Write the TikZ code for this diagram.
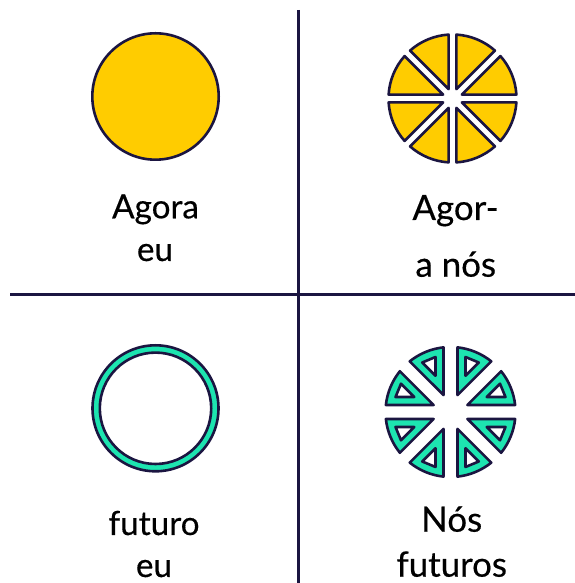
\documentclass[tikz,border=0pt]{standalone}
\usepackage{fontspec}
\setmainfont{Lato}
\newfontfamily\lblfont{Lato}[FakeBold=0.4]
\definecolor{navy}{HTML}{1B1541}
\definecolor{sun}{HTML}{FFCC00}
\definecolor{mint}{HTML}{1DE4B0}
\begin{document}
\begin{tikzpicture}[x=1bp,y=1bp,
  grid/.style={navy,line width=2.7bp},
  shapeline/.style={draw=navy,line width=2.6bp,line join=round},
  lbl/.style={anchor=base,inner sep=0pt,text=black,font=\lblfont\fontsize{33.4}{40}\selectfont},
  lblr/.style={anchor=base,inner sep=0pt,text=black,font=\lblfont\fontsize{35}{42}\selectfont}]
\useasboundingbox (0,0) rectangle (575,583);
\fill[white] (0,0) rectangle (575,583);
% grid
\coordinate (vt) at (298.3,573);
\coordinate (vb) at (298.3,0);
\coordinate (hl) at (10,288.7);
\coordinate (hr) at (575,288.7);
\draw[grid] (vt) -- (vb);
\draw[grid] (hl) -- (hr);
% top-left full circle
\draw[shapeline,fill=sun] (155.5,486.5) circle[radius=63.2];
% top-right cut pie
\begin{scope}[shift={(452.5,484.5)}]
\pgfmathsetmacro{\R}{64}
\pgfmathsetmacro{\gh}{3.9}
\pgfmathsetmacro{\h}{\gh/sin(22.5)}
\pgfmathsetmacro{\d}{asin(\gh/\R)}
\foreach \a in {0,45,...,315}{
  \draw[shapeline,fill=sun] (\a+22.5:\h) -- (\a+\d:\R)
    arc[start angle=\a+\d, end angle=\a+45-\d, radius=\R] -- cycle;
}
\end{scope}
% bottom-left ring
\draw[shapeline,fill=mint,even odd rule] (155.5,174.7) circle[radius=63] (155.5,174.7) circle[radius=55.7];
% bottom-right cut ring pieces
\begin{scope}[shift={(450.5,171)}]
\pgfmathsetmacro{\R}{65}
\pgfmathsetmacro{\gh}{7}
\pgfmathsetmacro{\h}{\gh/sin(22.5)}
\pgfmathsetmacro{\d}{asin(\gh/\R)}
\pgfmathsetmacro{\Rh}{57}
\pgfmathsetmacro{\dh}{15}
\pgfmathsetmacro{\hh}{\dh/sin(22.5)}
\pgfmathsetmacro{\ah}{asin(\dh/\Rh)}
\foreach \a in {0,45,...,315}{
  \draw[shapeline,fill=mint] (\a+22.5:\h) -- (\a+\d:\R)
    arc[start angle=\a+\d, end angle=\a+45-\d, radius=\R] -- cycle;
  \draw[shapeline,fill=white] (\a+22.5:\hh) -- (\a+\ah:\Rh) -- (\a+45-\ah:\Rh) -- cycle;
}
\end{scope}
% labels
\node[lbl] (l1a) at (155.5,364.7) {Agora};
\node[lbl] (l1b) at (155,322) {eu};
\node[lblr] (l2a) at (455.5,363) {Agor-};
\node[lblr] (l2b) at (455.8,306.3) {a nós};
\node[lbl] (l3a) at (154,48) {futuro};
\node[lbl] (l3b) at (154,6) {eu};
\node[lblr] (l4a) at (451.7,51.3) {Nós};
\node[lblr] (l4b) at (451.7,6.3) {futuros};
\end{tikzpicture}
\end{document}
